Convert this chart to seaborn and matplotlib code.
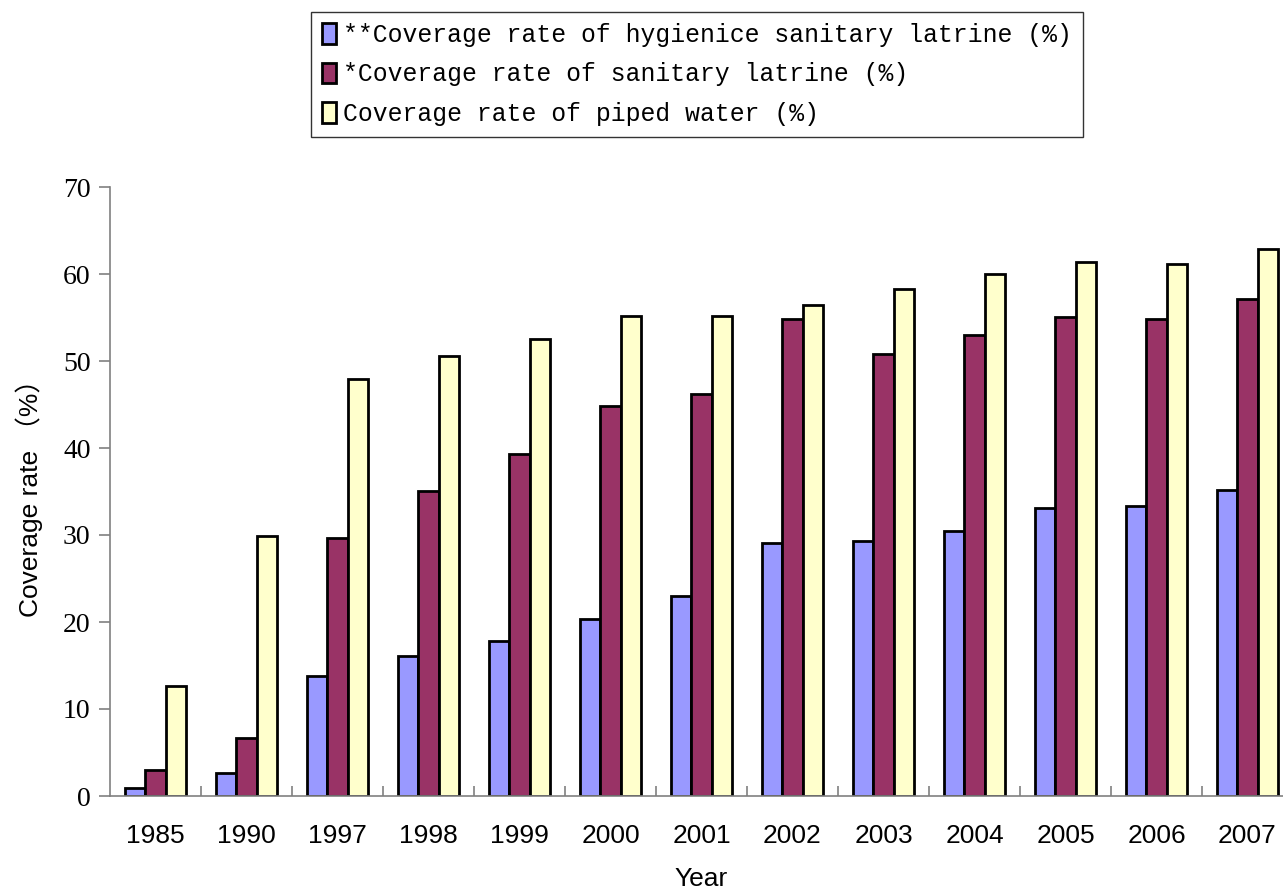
import numpy as np
import pandas as pd
import matplotlib
matplotlib.use("Agg")
import matplotlib.pyplot as plt
import seaborn as sns

years = ["1985", "1990", "1997", "1998", "1999", "2000", "2001",
         "2002", "2003", "2004", "2005", "2006", "2007"]
hygienic = [0.9, 2.6, 13.8, 16.1, 17.8, 20.3, 23.0, 29.1, 29.3, 30.5, 33.1, 33.3, 35.2]
sanitary = [3.0, 6.7, 29.7, 35.1, 39.3, 44.8, 46.2, 54.8, 50.8, 53.0, 55.1, 54.8, 57.1]
piped = [12.6, 29.9, 47.9, 50.6, 52.5, 55.2, 55.2, 56.4, 58.3, 60.0, 61.4, 61.1, 62.9]

series_names = ["**Coverage rate of hygienice sanitary latrine (%)",
                "*Coverage rate of sanitary latrine (%)",
                "Coverage rate of piped water (%)"]
colors = ["#9999FF", "#993366", "#FFFFCC"]

df = pd.DataFrame({
    "year": years * 3,
    "value": hygienic + sanitary + piped,
    "series": [series_names[0]] * 13 + [series_names[1]] * 13 + [series_names[2]] * 13,
})

sns.set_style("white")
plt.rcParams["text.color"] = "black"
plt.rcParams["xtick.color"] = "#808080"
plt.rcParams["ytick.color"] = "#808080"
plt.rcParams["xtick.labelcolor"] = "black"
plt.rcParams["ytick.labelcolor"] = "black"
plt.rcParams["axes.labelcolor"] = "black"

fig = plt.figure(figsize=(12.83, 8.96), dpi=100)
ax = fig.add_axes([110 / 1283, 1 - 796 / 896, 1183 / 1283, 609 / 896])

sns.barplot(data=df, x="year", y="value", hue="series", palette=colors,
            width=0.67, edgecolor="black", linewidth=2, saturation=1,
            ax=ax, legend=True)

ax.set_ylim(0, 70)
ax.set_xlim(-0.5, 12.5)
ax.set_yticks(range(0, 71, 10))
ax.set_yticklabels([str(v) for v in range(0, 71, 10)], family="Liberation Serif", fontsize=20)
ax.set_xticklabels(years, family="Liberation Sans", fontsize=19)
ax.tick_params(axis="x", which="major", length=0, pad=20)
ax.set_xticks(np.arange(0.5, 12, 1), minor=True)
ax.tick_params(axis="x", which="minor", bottom=True, direction="in", length=7, width=1.2)
ax.tick_params(axis="y", direction="out", length=8, width=1.2, left=True, pad=6)

for s in ["top", "right"]:
    ax.spines[s].set_visible(False)
for s in ["left", "bottom"]:
    ax.spines[s].set_color("#808080")
    ax.spines[s].set_linewidth(1.2)

ax.set_xlabel("Year", family="Liberation Sans", fontsize=19, labelpad=14)
ax.set_ylabel("Coverage rate （%）", family=["Liberation Sans", "Noto Sans CJK SC"],
              fontsize=19, labelpad=14)

handles, labels = ax.get_legend_handles_labels()
ax.get_legend().remove()
leg = fig.legend(handles, labels, loc="upper left",
                 bbox_to_anchor=(311 / 1283, 1 - 12 / 896),
                 prop={"family": "Liberation Mono", "size": 17.8},
                 frameon=True, fancybox=False, edgecolor="black",
                 handlelength=0.55, handleheight=0.9, handletextpad=0.3,
                 labelspacing=0.62, borderpad=0.45, borderaxespad=0)
leg.get_frame().set_linewidth(1.0)

fig.savefig("out.png", dpi=100)
